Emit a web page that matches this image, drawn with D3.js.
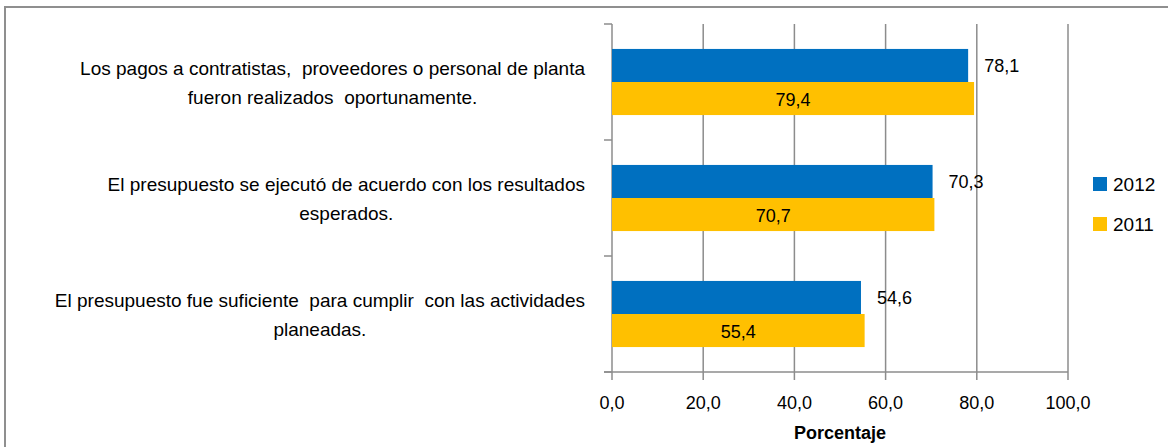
<!DOCTYPE html>
<html>
<head>
<meta charset="UTF-8">
<title>Presupuesto</title>
<script src="https://d3js.org/d3.v7.min.js"></script>
<style>
  body { margin: 0; background: #fff; }
  text { font-family: "Liberation Sans Narrow", "Arial Narrow", "Liberation Sans", sans-serif; fill: #000; }
  .tick-label { font-size: 18px; }
  .cat-label { font-size: 19px; }
  .value-label { font-size: 18px; }
  .legend-label { font-size: 19px; }
  .axis-title { font-size: 18px; font-weight: bold; }
</style>
</head>
<body>
<script>
// data
const categories = [
  ["Los pagos a contratistas,  proveedores o personal de planta", "fueron realizados  oportunamente."],
  ["El presupuesto se ejecutó de acuerdo con los resultados", "esperados."],
  ["El presupuesto fue suficiente  para cumplir  con las actividades", "planeadas."]
];
const seriesNames = ["2012", "2011"];
const values2012 = [78.1, 70.3, 54.6];
const values2011 = [79.4, 70.7, 55.4];
const xTicks = [0, 20, 40, 60, 80, 100];
const colors = ["#0070C0", "#FFC000"];

const width = 1168, height = 447;
const plotLeft = 612, plotRight = 1068, plotTop = 24, plotBottom = 372;

const svg = d3.select("body").append("svg")
  .attr("width", width)
  .attr("height", height);

// chart frame (runs off the right and bottom edges)
svg.append("path")
  .attr("d", `M5,${height + 2} V7 H${width + 2}`)
  .attr("fill", "none")
  .attr("stroke", "#8f8f8f")
  .attr("stroke-width", 2);

const x = d3.scaleLinear().domain([0, 100]).range([plotLeft, plotRight]);
const idx = d3.range(categories.length);
const y0 = d3.scaleBand().domain(idx).range([plotTop, plotBottom])
  .paddingInner(0.43).paddingOuter(0.215);
const y1 = d3.scaleBand().domain(seriesNames).range([0, y0.bandwidth()]);
const step = y0.step();

const gridColor = "#8c8c8c";

// vertical gridlines (with bottom tick marks)
svg.append("g").selectAll("line")
  .data(xTicks)
  .join("line")
  .attr("x1", d => x(d)).attr("x2", d => x(d))
  .attr("y1", plotTop).attr("y2", plotBottom + 8)
  .attr("stroke", gridColor)
  .attr("stroke-width", 1.5);

// bottom axis line
svg.append("line")
  .attr("x1", plotLeft - 8).attr("x2", plotRight)
  .attr("y1", plotBottom).attr("y2", plotBottom)
  .attr("stroke", gridColor).attr("stroke-width", 1.5);

// category tick marks on the left axis
const bounds = d3.range(categories.length + 1).map(i => plotTop + i * step);
svg.append("g").selectAll("line")
  .data(bounds)
  .join("line")
  .attr("x1", plotLeft - 8).attr("x2", plotLeft)
  .attr("y1", d => d).attr("y2", d => d)
  .attr("stroke", gridColor).attr("stroke-width", 1.5);

// x tick labels
svg.append("g").selectAll("text")
  .data(xTicks)
  .join("text")
  .attr("class", "tick-label")
  .attr("x", d => x(d))
  .attr("y", 409)
  .attr("text-anchor", "middle")
  .text(d => d.toFixed(1).replace(".", ","));

svg.append("text")
  .attr("class", "axis-title")
  .attr("x", (plotLeft + plotRight) / 2)
  .attr("y", 439)
  .attr("text-anchor", "middle")
  .text("Porcentaje");

// bars
const series = [values2012, values2011];
const bars = svg.append("g");
seriesNames.forEach((name, s) => {
  bars.selectAll(".bar-" + s)
    .data(idx)
    .join("rect")
    .attr("class", "bar-" + s)
    .attr("x", plotLeft)
    .attr("y", i => y0(i) + y1(name))
    .attr("width", i => x(series[s][i]) - plotLeft)
    .attr("height", y1.bandwidth())
    .attr("fill", colors[s]);
});

// value labels: 2012 outside the bar, 2011 centred inside
svg.append("g").selectAll("text")
  .data(idx)
  .join("text")
  .attr("class", "value-label")
  .attr("x", i => x(values2012[i]) + 16)
  .attr("y", i => y0(i) + y1("2012") + y1.bandwidth() / 2 + 7)
  .text(i => values2012[i].toFixed(1).replace(".", ","));

svg.append("g").selectAll("text")
  .data(idx)
  .join("text")
  .attr("class", "value-label")
  .attr("text-anchor", "middle")
  .attr("x", i => (plotLeft + x(values2011[i])) / 2)
  .attr("y", i => y0(i) + y1("2011") + y1.bandwidth() / 2 + 7)
  .text(i => values2011[i].toFixed(1).replace(".", ","));

// category labels, centred block whose widest line ends at 585
const catG = svg.append("g");
idx.forEach(i => {
  const lines = categories[i];
  const cy = y0(i) + y0.bandwidth() / 2;
  const t = catG.append("text")
    .attr("class", "cat-label")
    .attr("text-anchor", "middle")
    .attr("xml:space", "preserve");
  lines.forEach((ln, k) => {
    t.append("tspan")
      .attr("y", cy - 14 + k * 29 + 7)
      .text(ln);
  });
  let maxW = 0;
  t.selectAll("tspan").each(function () {
    maxW = Math.max(maxW, this.getComputedTextLength());
  });
  t.selectAll("tspan").attr("x", 585 - maxW / 2);
});

// legend
const legend = svg.append("g");
seriesNames.forEach((name, s) => {
  const ly = 184 + s * 40;
  legend.append("rect")
    .attr("x", 1093).attr("y", ly - 7)
    .attr("width", 14).attr("height", 14)
    .attr("fill", colors[s]);
  legend.append("text")
    .attr("class", "legend-label")
    .attr("x", 1113).attr("y", ly + 7)
    .text(name);
});
</script>
</body>
</html>
